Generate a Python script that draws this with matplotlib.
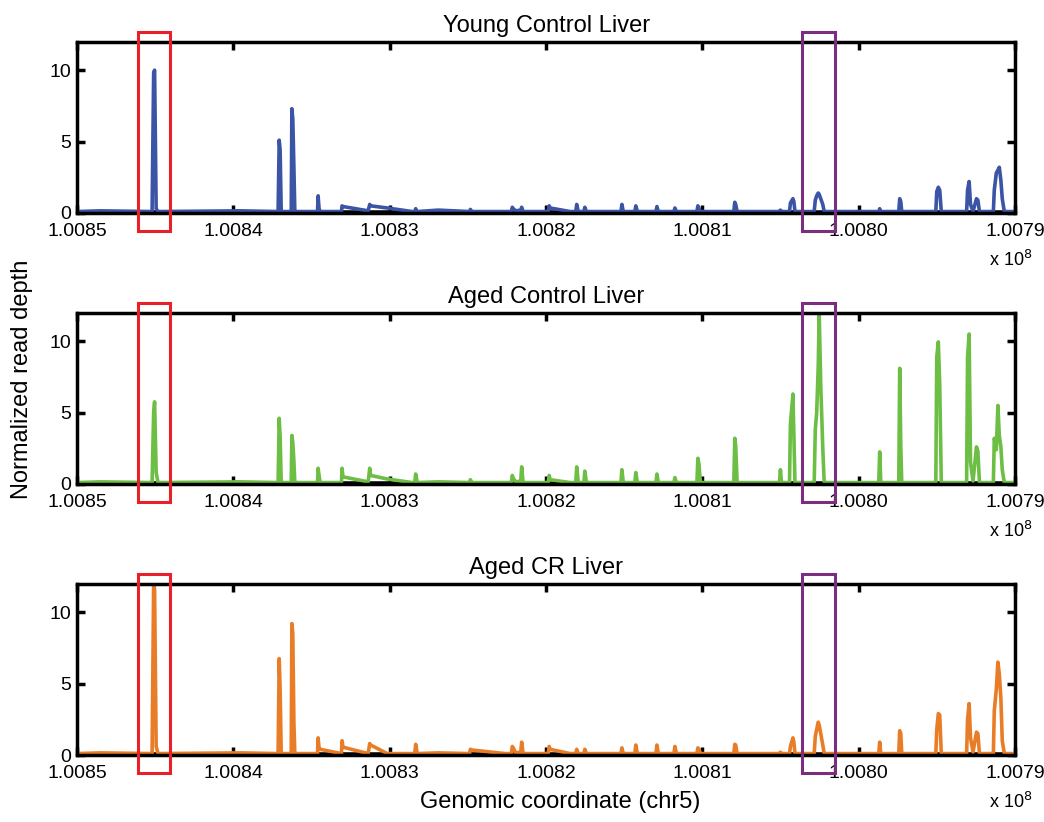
import numpy as np
import matplotlib
matplotlib.use('Agg')
import matplotlib.pyplot as plt
from matplotlib.patches import Rectangle

plt.rcParams['font.family'] = ['Liberation Sans', 'DejaVu Sans']

# genomic positions (bp, chr5) shared by the three tracks
pos = [100850000, 100848530, 100845200, 100845100, 100845040, 100844940, 100844820,
       100839570, 100837140, 100837070, 100837010, 100836940,
       100836300, 100836260, 100836200, 100836130, 100836070,
       100834620, 100834580, 100834520, 100834450,
       100833090, 100833050, 100832990,
       100831380, 100831280, 100831220, 100830160, 100828560,
       100828400, 100828340, 100828240, 100826900,
       100824900, 100824840, 100824740, 100822620,
       100822220, 100822160, 100822100, 100821940, 100821620, 100821560, 100821470,
       100819870, 100819800, 100819740, 100818460,
       100818100, 100818040, 100817940, 100817580, 100817520, 100817420,
       100815210, 100815150, 100815060, 100814320, 100814260, 100814160,
       100812970, 100812910, 100812820, 100811820, 100811760, 100811660,
       100810350, 100810290, 100810220, 100810130,
       100807990, 100807930, 100807870, 100807780,
       100805070, 100805010, 100804940,
       100804430, 100804370, 100804210, 100804150, 100804080,
       100802850, 100802780, 100802690, 100802590, 100802530, 100802430, 100802300, 100802210,
       100798720, 100798660, 100798590,
       100797440, 100797380, 100797310, 100797250,
       100795070, 100795010, 100794910, 100794820, 100794720,
       100793100, 100793040, 100792940, 100792850, 100792690, 100792470, 100792380, 100792280,
       100791390, 100791330, 100791200, 100791100, 100791010, 100790910, 100790820, 100790690,
       100790000]

young = [0.1, 0.15, 0.1, 9.8, 10.0, 0.3, 0.1,
         0.15, 0.1, 5.1, 4.4, 0.1,
         0.1, 7.3, 6.6, 3.2, 0.1,
         0.1, 1.2, 0.3, 0.1,
         0.1, 0.5, 0.45,
         0.15, 0.6, 0.5, 0.35, 0.1,
         0.1, 0.3, 0.1, 0.2,
         0.1, 0.25, 0.1, 0.1,
         0.1, 0.4, 0.3, 0.15, 0.2, 0.4, 0.1,
         0.1, 0.5, 0.35, 0.1,
         0.1, 0.6, 0.1, 0.1, 0.4, 0.1,
         0.1, 0.6, 0.1, 0.1, 0.5, 0.1,
         0.1, 0.45, 0.1, 0.1, 0.35, 0.1,
         0.1, 0.5, 0.3, 0.1,
         0.1, 0.75, 0.6, 0.1,
         0.1, 0.2, 0.1,
         0.1, 0.7, 1.0, 0.8, 0.1,
         0.1, 0.9, 1.2, 1.4, 1.3, 1.0, 0.6, 0.1,
         0.1, 0.3, 0.1,
         0.1, 1.0, 0.8, 0.1,
         0.1, 1.5, 1.8, 1.6, 0.1,
         0.1, 1.6, 2.2, 0.6, 0.1, 1.0, 0.9, 0.1,
         0.1, 1.6, 2.8, 3.0, 3.2, 2.3, 1.0, 0.1,
         0.1]

aged = [0.1, 0.15, 0.1, 5.0, 5.75, 0.8, 0.1,
        0.15, 0.1, 4.6, 3.3, 0.1,
        0.1, 3.4, 2.9, 1.6, 0.1,
        0.1, 1.1, 0.6, 0.1,
        0.1, 1.1, 0.5,
        0.15, 1.1, 0.6, 0.35, 0.1,
        0.1, 0.7, 0.1, 0.15,
        0.1, 0.3, 0.1, 0.1,
        0.1, 0.6, 0.4, 0.15, 0.2, 1.2, 0.1,
        0.1, 0.6, 0.3, 0.1,
        0.1, 1.2, 0.1, 0.1, 0.9, 0.1,
        0.1, 1.0, 0.1, 0.1, 0.8, 0.1,
        0.1, 0.7, 0.1, 0.1, 0.45, 0.1,
        0.1, 1.8, 1.4, 0.1,
        0.1, 3.2, 2.7, 0.1,
        0.1, 1.0, 0.1,
        0.1, 4.2, 6.3, 3.5, 0.1,
        0.1, 3.8, 5.0, 8.3, 12.0, 6.9, 2.5, 0.1,
        0.1, 2.25, 0.1,
        0.1, 8.1, 2.6, 0.1,
        0.1, 8.9, 9.95, 7.0, 0.1,
        0.1, 8.9, 10.5, 1.5, 0.2, 2.6, 2.3, 0.1,
        0.1, 3.2, 2.4, 5.5, 3.4, 2.6, 1.0, 0.1,
        0.1]

aged_cr = [0.1, 0.15, 0.1, 12.1, 11.6, 0.6, 0.1,
           0.15, 0.1, 6.75, 4.6, 0.1,
           0.1, 9.2, 8.5, 2.3, 0.1,
           0.1, 1.2, 0.5, 0.4,
           0.1, 1.0, 0.55,
           0.1, 0.8, 0.7, 0.1, 0.1,
           0.1, 0.75, 0.1, 0.15,
           0.1, 0.4, 0.35, 0.1,
           0.1, 0.6, 0.5, 0.15, 0.2, 0.9, 0.1,
           0.1, 0.6, 0.4, 0.1,
           0.1, 0.4, 0.1, 0.1, 0.4, 0.1,
           0.1, 0.5, 0.1, 0.1, 0.7, 0.1,
           0.1, 0.7, 0.1, 0.1, 0.6, 0.1,
           0.1, 0.5, 0.4, 0.1,
           0.1, 0.75, 0.7, 0.1,
           0.1, 0.2, 0.1,
           0.1, 0.6, 1.2, 0.9, 0.1,
           0.1, 1.3, 1.8, 2.3, 2.1, 1.5, 0.7, 0.1,
           0.1, 0.9, 0.1,
           0.1, 1.7, 1.5, 0.1,
           0.1, 1.8, 2.9, 2.8, 0.1,
           0.1, 2.5, 3.6, 1.2, 0.2, 1.6, 1.5, 0.1,
           0.1, 3.1, 4.6, 6.5, 5.7, 4.0, 1.0, 0.1,
           0.1]

titles = ['Young Control Liver', 'Aged Control Liver', 'Aged CR Liver']
colors = ['#3B54A5', '#6CBE45', '#E97D27']
tracks = [young, aged, aged_cr]

xticks = [100850000, 100840000, 100830000, 100820000, 100810000, 100800000, 100790000]
xticklabels = ['1.0085', '1.0084', '1.0083', '1.0082', '1.0081', '1.0080', '1.0079']

red_box = (100846100, 100844050)
purple_box = (100803620, 100801500)

fig = plt.figure(figsize=(10.44, 8.22), dpi=100)
bottoms = [0.7409, 0.4112, 0.0815]

for i in range(3):
    ax = fig.add_axes([0.0738, bottoms[i], 0.8985, 0.2085])
    ax.axhline(0, color='black', lw=4, zorder=1)
    ax.plot(pos, tracks[i], color=colors[i], lw=2.6, zorder=2)
    ax.set_xlim(100850000, 100790000)
    ax.set_ylim(0, 12)
    ax.set_yticks([0, 5, 10])
    ax.set_xticks(xticks)
    ax.set_xticklabels(xticklabels)
    ax.tick_params(direction='in', top=True, right=True, length=6, width=2.5,
                   labelsize=14)
    ax.tick_params(axis='x', pad=7)
    ax.tick_params(axis='y', pad=4)
    for s in ax.spines.values():
        s.set_linewidth(2.5)
    ax.set_title(titles[i], fontsize=17, pad=7)
    ax.text(1.018, -0.275, r'x 10$^{8}$', transform=ax.transAxes,
            ha='right', va='center', fontsize=13)

    for (x0, x1), c in [(red_box, '#E8202A'), (purple_box, '#7B2D80')]:
        rect = Rectangle((x0, -1.25), x1 - x0, 13.9, fill=False,
                         edgecolor=c, lw=2.2, clip_on=False, zorder=5)
        ax.add_patch(rect)

fig.text(22 / 1044, 1 - 379 / 822, 'Normalized read depth', rotation=90,
         ha='center', va='center', fontsize=17)
fig.text(560 / 1044, 1 - 802 / 822, 'Genomic coordinate (chr5)',
         ha='center', va='center', fontsize=17)

fig.savefig('out.png', dpi=100)
